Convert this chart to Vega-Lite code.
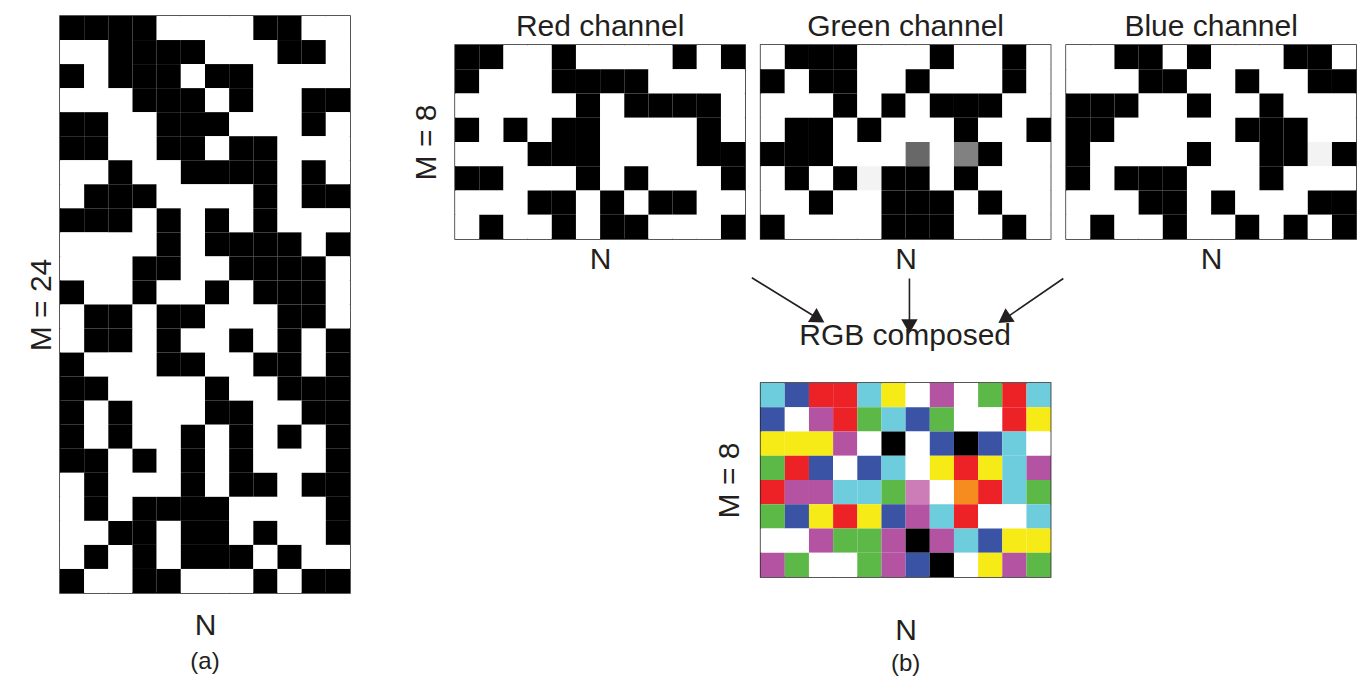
{
"$schema": "https://vega.github.io/schema/vega-lite/v6.json",
"background": "white",
"padding": {"left": 25, "top": 11, "right": 0, "bottom": 0},
"config": {
 "view": {"stroke": "#231f20", "strokeWidth": 1.5},
 "font": "Liberation Sans",
 "axis": {"labels": false, "ticks": false, "domain": false, "grid": false, "titleFontSize": 30, "titleFontWeight": "normal", "titleColor": "#231f20", "titleFont": "Liberation Sans", "minExtent": 0},
 "title": {"fontSize": 30, "fontWeight": "normal", "color": "#231f20", "font": "Liberation Sans", "offset": 0}
},
"datasets": {
"a": [
{"r":0,"c":0,"v":1},{"r":0,"c":1,"v":1},{"r":0,"c":2,"v":1},{"r":0,"c":3,"v":1},{"r":0,"c":4,"v":0},{"r":0,"c":5,"v":0},{"r":0,"c":6,"v":0},{"r":0,"c":7,"v":0},{"r":0,"c":8,"v":1},{"r":0,"c":9,"v":1},{"r":0,"c":10,"v":0},{"r":0,"c":11,"v":0},
{"r":1,"c":0,"v":0},{"r":1,"c":1,"v":0},{"r":1,"c":2,"v":1},{"r":1,"c":3,"v":1},{"r":1,"c":4,"v":1},{"r":1,"c":5,"v":1},{"r":1,"c":6,"v":0},{"r":1,"c":7,"v":0},{"r":1,"c":8,"v":0},{"r":1,"c":9,"v":1},{"r":1,"c":10,"v":1},{"r":1,"c":11,"v":0},
{"r":2,"c":0,"v":1},{"r":2,"c":1,"v":0},{"r":2,"c":2,"v":1},{"r":2,"c":3,"v":1},{"r":2,"c":4,"v":1},{"r":2,"c":5,"v":0},{"r":2,"c":6,"v":1},{"r":2,"c":7,"v":1},{"r":2,"c":8,"v":0},{"r":2,"c":9,"v":0},{"r":2,"c":10,"v":0},{"r":2,"c":11,"v":0},
{"r":3,"c":0,"v":0},{"r":3,"c":1,"v":0},{"r":3,"c":2,"v":0},{"r":3,"c":3,"v":1},{"r":3,"c":4,"v":1},{"r":3,"c":5,"v":1},{"r":3,"c":6,"v":0},{"r":3,"c":7,"v":1},{"r":3,"c":8,"v":0},{"r":3,"c":9,"v":0},{"r":3,"c":10,"v":1},{"r":3,"c":11,"v":1},
{"r":4,"c":0,"v":1},{"r":4,"c":1,"v":1},{"r":4,"c":2,"v":0},{"r":4,"c":3,"v":0},{"r":4,"c":4,"v":1},{"r":4,"c":5,"v":1},{"r":4,"c":6,"v":1},{"r":4,"c":7,"v":0},{"r":4,"c":8,"v":0},{"r":4,"c":9,"v":0},{"r":4,"c":10,"v":1},{"r":4,"c":11,"v":0},
{"r":5,"c":0,"v":1},{"r":5,"c":1,"v":1},{"r":5,"c":2,"v":0},{"r":5,"c":3,"v":0},{"r":5,"c":4,"v":1},{"r":5,"c":5,"v":1},{"r":5,"c":6,"v":0},{"r":5,"c":7,"v":1},{"r":5,"c":8,"v":1},{"r":5,"c":9,"v":0},{"r":5,"c":10,"v":0},{"r":5,"c":11,"v":0},
{"r":6,"c":0,"v":0},{"r":6,"c":1,"v":0},{"r":6,"c":2,"v":1},{"r":6,"c":3,"v":0},{"r":6,"c":4,"v":0},{"r":6,"c":5,"v":1},{"r":6,"c":6,"v":1},{"r":6,"c":7,"v":1},{"r":6,"c":8,"v":1},{"r":6,"c":9,"v":0},{"r":6,"c":10,"v":1},{"r":6,"c":11,"v":0},
{"r":7,"c":0,"v":0},{"r":7,"c":1,"v":1},{"r":7,"c":2,"v":1},{"r":7,"c":3,"v":1},{"r":7,"c":4,"v":0},{"r":7,"c":5,"v":0},{"r":7,"c":6,"v":0},{"r":7,"c":7,"v":0},{"r":7,"c":8,"v":1},{"r":7,"c":9,"v":0},{"r":7,"c":10,"v":1},{"r":7,"c":11,"v":1},
{"r":8,"c":0,"v":1},{"r":8,"c":1,"v":1},{"r":8,"c":2,"v":1},{"r":8,"c":3,"v":0},{"r":8,"c":4,"v":1},{"r":8,"c":5,"v":0},{"r":8,"c":6,"v":1},{"r":8,"c":7,"v":0},{"r":8,"c":8,"v":1},{"r":8,"c":9,"v":0},{"r":8,"c":10,"v":0},{"r":8,"c":11,"v":0},
{"r":9,"c":0,"v":0},{"r":9,"c":1,"v":0},{"r":9,"c":2,"v":0},{"r":9,"c":3,"v":0},{"r":9,"c":4,"v":1},{"r":9,"c":5,"v":0},{"r":9,"c":6,"v":1},{"r":9,"c":7,"v":1},{"r":9,"c":8,"v":1},{"r":9,"c":9,"v":1},{"r":9,"c":10,"v":0},{"r":9,"c":11,"v":1},
{"r":10,"c":0,"v":0},{"r":10,"c":1,"v":0},{"r":10,"c":2,"v":0},{"r":10,"c":3,"v":1},{"r":10,"c":4,"v":1},{"r":10,"c":5,"v":0},{"r":10,"c":6,"v":0},{"r":10,"c":7,"v":1},{"r":10,"c":8,"v":1},{"r":10,"c":9,"v":1},{"r":10,"c":10,"v":1},{"r":10,"c":11,"v":0},
{"r":11,"c":0,"v":1},{"r":11,"c":1,"v":0},{"r":11,"c":2,"v":0},{"r":11,"c":3,"v":1},{"r":11,"c":4,"v":0},{"r":11,"c":5,"v":0},{"r":11,"c":6,"v":1},{"r":11,"c":7,"v":0},{"r":11,"c":8,"v":1},{"r":11,"c":9,"v":1},{"r":11,"c":10,"v":1},{"r":11,"c":11,"v":0},
{"r":12,"c":0,"v":0},{"r":12,"c":1,"v":1},{"r":12,"c":2,"v":1},{"r":12,"c":3,"v":0},{"r":12,"c":4,"v":1},{"r":12,"c":5,"v":1},{"r":12,"c":6,"v":0},{"r":12,"c":7,"v":0},{"r":12,"c":8,"v":0},{"r":12,"c":9,"v":1},{"r":12,"c":10,"v":1},{"r":12,"c":11,"v":0},
{"r":13,"c":0,"v":0},{"r":13,"c":1,"v":1},{"r":13,"c":2,"v":1},{"r":13,"c":3,"v":0},{"r":13,"c":4,"v":1},{"r":13,"c":5,"v":0},{"r":13,"c":6,"v":0},{"r":13,"c":7,"v":1},{"r":13,"c":8,"v":0},{"r":13,"c":9,"v":1},{"r":13,"c":10,"v":0},{"r":13,"c":11,"v":1},
{"r":14,"c":0,"v":1},{"r":14,"c":1,"v":0},{"r":14,"c":2,"v":0},{"r":14,"c":3,"v":0},{"r":14,"c":4,"v":1},{"r":14,"c":5,"v":1},{"r":14,"c":6,"v":0},{"r":14,"c":7,"v":0},{"r":14,"c":8,"v":1},{"r":14,"c":9,"v":1},{"r":14,"c":10,"v":0},{"r":14,"c":11,"v":1},
{"r":15,"c":0,"v":1},{"r":15,"c":1,"v":1},{"r":15,"c":2,"v":0},{"r":15,"c":3,"v":0},{"r":15,"c":4,"v":0},{"r":15,"c":5,"v":0},{"r":15,"c":6,"v":1},{"r":15,"c":7,"v":0},{"r":15,"c":8,"v":0},{"r":15,"c":9,"v":1},{"r":15,"c":10,"v":1},{"r":15,"c":11,"v":1},
{"r":16,"c":0,"v":1},{"r":16,"c":1,"v":0},{"r":16,"c":2,"v":1},{"r":16,"c":3,"v":0},{"r":16,"c":4,"v":0},{"r":16,"c":5,"v":0},{"r":16,"c":6,"v":1},{"r":16,"c":7,"v":1},{"r":16,"c":8,"v":0},{"r":16,"c":9,"v":0},{"r":16,"c":10,"v":1},{"r":16,"c":11,"v":1},
{"r":17,"c":0,"v":1},{"r":17,"c":1,"v":0},{"r":17,"c":2,"v":1},{"r":17,"c":3,"v":0},{"r":17,"c":4,"v":0},{"r":17,"c":5,"v":1},{"r":17,"c":6,"v":0},{"r":17,"c":7,"v":1},{"r":17,"c":8,"v":0},{"r":17,"c":9,"v":1},{"r":17,"c":10,"v":0},{"r":17,"c":11,"v":1},
{"r":18,"c":0,"v":1},{"r":18,"c":1,"v":1},{"r":18,"c":2,"v":0},{"r":18,"c":3,"v":1},{"r":18,"c":4,"v":0},{"r":18,"c":5,"v":1},{"r":18,"c":6,"v":0},{"r":18,"c":7,"v":1},{"r":18,"c":8,"v":0},{"r":18,"c":9,"v":0},{"r":18,"c":10,"v":0},{"r":18,"c":11,"v":1},
{"r":19,"c":0,"v":0},{"r":19,"c":1,"v":1},{"r":19,"c":2,"v":0},{"r":19,"c":3,"v":0},{"r":19,"c":4,"v":0},{"r":19,"c":5,"v":1},{"r":19,"c":6,"v":0},{"r":19,"c":7,"v":1},{"r":19,"c":8,"v":1},{"r":19,"c":9,"v":0},{"r":19,"c":10,"v":1},{"r":19,"c":11,"v":1},
{"r":20,"c":0,"v":0},{"r":20,"c":1,"v":1},{"r":20,"c":2,"v":0},{"r":20,"c":3,"v":1},{"r":20,"c":4,"v":1},{"r":20,"c":5,"v":1},{"r":20,"c":6,"v":1},{"r":20,"c":7,"v":0},{"r":20,"c":8,"v":0},{"r":20,"c":9,"v":0},{"r":20,"c":10,"v":0},{"r":20,"c":11,"v":1},
{"r":21,"c":0,"v":0},{"r":21,"c":1,"v":0},{"r":21,"c":2,"v":1},{"r":21,"c":3,"v":1},{"r":21,"c":4,"v":0},{"r":21,"c":5,"v":1},{"r":21,"c":6,"v":1},{"r":21,"c":7,"v":0},{"r":21,"c":8,"v":1},{"r":21,"c":9,"v":0},{"r":21,"c":10,"v":0},{"r":21,"c":11,"v":1},
{"r":22,"c":0,"v":0},{"r":22,"c":1,"v":1},{"r":22,"c":2,"v":0},{"r":22,"c":3,"v":1},{"r":22,"c":4,"v":0},{"r":22,"c":5,"v":1},{"r":22,"c":6,"v":1},{"r":22,"c":7,"v":1},{"r":22,"c":8,"v":0},{"r":22,"c":9,"v":1},{"r":22,"c":10,"v":0},{"r":22,"c":11,"v":0},
{"r":23,"c":0,"v":1},{"r":23,"c":1,"v":0},{"r":23,"c":2,"v":0},{"r":23,"c":3,"v":1},{"r":23,"c":4,"v":1},{"r":23,"c":5,"v":0},{"r":23,"c":6,"v":0},{"r":23,"c":7,"v":0},{"r":23,"c":8,"v":1},{"r":23,"c":9,"v":0},{"r":23,"c":10,"v":1},{"r":23,"c":11,"v":1}
],
"b": [
{"r":0,"c":0,"R":0,"G":1,"B":1,"k":"cyan"},{"r":0,"c":1,"R":0,"G":0,"B":1,"k":"blue"},{"r":0,"c":2,"R":1,"G":0,"B":0,"k":"red"},{"r":0,"c":3,"R":1,"G":0,"B":0,"k":"red"},{"r":0,"c":4,"R":0,"G":1,"B":1,"k":"cyan"},{"r":0,"c":5,"R":1,"G":1,"B":0,"k":"yellow"},{"r":0,"c":6,"R":1,"G":1,"B":1,"k":"white"},{"r":0,"c":7,"R":1,"G":0,"B":1,"k":"magenta"},{"r":0,"c":8,"R":1,"G":1,"B":1,"k":"white"},{"r":0,"c":9,"R":0,"G":1,"B":0,"k":"green"},{"r":0,"c":10,"R":1,"G":0,"B":0,"k":"red"},{"r":0,"c":11,"R":0,"G":1,"B":1,"k":"cyan"},
{"r":1,"c":0,"R":0,"G":0,"B":1,"k":"blue"},{"r":1,"c":1,"R":1,"G":1,"B":1,"k":"white"},{"r":1,"c":2,"R":1,"G":0,"B":1,"k":"magenta"},{"r":1,"c":3,"R":1,"G":0,"B":0,"k":"red"},{"r":1,"c":4,"R":0,"G":1,"B":0,"k":"green"},{"r":1,"c":5,"R":0,"G":1,"B":1,"k":"cyan"},{"r":1,"c":6,"R":0,"G":0,"B":1,"k":"blue"},{"r":1,"c":7,"R":0,"G":1,"B":0,"k":"green"},{"r":1,"c":8,"R":1,"G":1,"B":1,"k":"white"},{"r":1,"c":9,"R":1,"G":1,"B":1,"k":"white"},{"r":1,"c":10,"R":1,"G":0,"B":0,"k":"red"},{"r":1,"c":11,"R":1,"G":1,"B":0,"k":"yellow"},
{"r":2,"c":0,"R":1,"G":1,"B":0,"k":"yellow"},{"r":2,"c":1,"R":1,"G":1,"B":0,"k":"yellow"},{"r":2,"c":2,"R":1,"G":1,"B":0,"k":"yellow"},{"r":2,"c":3,"R":1,"G":0,"B":1,"k":"magenta"},{"r":2,"c":4,"R":1,"G":1,"B":1,"k":"white"},{"r":2,"c":5,"R":0,"G":0,"B":0,"k":"black"},{"r":2,"c":6,"R":1,"G":1,"B":1,"k":"white"},{"r":2,"c":7,"R":0,"G":0,"B":1,"k":"blue"},{"r":2,"c":8,"R":0,"G":0,"B":0,"k":"black"},{"r":2,"c":9,"R":0,"G":0,"B":1,"k":"blue"},{"r":2,"c":10,"R":0,"G":1,"B":1,"k":"cyan"},{"r":2,"c":11,"R":1,"G":1,"B":1,"k":"white"},
{"r":3,"c":0,"R":0,"G":1,"B":0,"k":"green"},{"r":3,"c":1,"R":1,"G":0,"B":0,"k":"red"},{"r":3,"c":2,"R":0,"G":0,"B":1,"k":"blue"},{"r":3,"c":3,"R":1,"G":1,"B":1,"k":"white"},{"r":3,"c":4,"R":0,"G":0,"B":1,"k":"blue"},{"r":3,"c":5,"R":0,"G":1,"B":1,"k":"cyan"},{"r":3,"c":6,"R":1,"G":1,"B":1,"k":"white"},{"r":3,"c":7,"R":1,"G":1,"B":0,"k":"yellow"},{"r":3,"c":8,"R":1,"G":0,"B":0,"k":"red"},{"r":3,"c":9,"R":1,"G":1,"B":0,"k":"yellow"},{"r":3,"c":10,"R":0,"G":1,"B":1,"k":"cyan"},{"r":3,"c":11,"R":1,"G":0,"B":1,"k":"magenta"},
{"r":4,"c":0,"R":1,"G":0,"B":0,"k":"red"},{"r":4,"c":1,"R":1,"G":0,"B":1,"k":"magenta"},{"r":4,"c":2,"R":1,"G":0,"B":1,"k":"magenta"},{"r":4,"c":3,"R":0,"G":1,"B":1,"k":"cyan"},{"r":4,"c":4,"R":0,"G":1,"B":1,"k":"cyan"},{"r":4,"c":5,"R":0,"G":1,"B":0,"k":"green"},{"r":4,"c":6,"R":1,"G":0.44,"B":1,"k":"pink"},{"r":4,"c":7,"R":1,"G":1,"B":1,"k":"white"},{"r":4,"c":8,"R":1,"G":0.54,"B":0,"k":"orange"},{"r":4,"c":9,"R":1,"G":0,"B":0,"k":"red"},{"r":4,"c":10,"R":0,"G":1,"B":0.96,"k":"cyan"},{"r":4,"c":11,"R":0,"G":1,"B":0,"k":"green"},
{"r":5,"c":0,"R":0,"G":1,"B":0,"k":"green"},{"r":5,"c":1,"R":0,"G":0,"B":1,"k":"blue"},{"r":5,"c":2,"R":1,"G":1,"B":0,"k":"yellow"},{"r":5,"c":3,"R":1,"G":0,"B":0,"k":"red"},{"r":5,"c":4,"R":1,"G":0.96,"B":0,"k":"yellow"},{"r":5,"c":5,"R":0,"G":0,"B":1,"k":"blue"},{"r":5,"c":6,"R":1,"G":0,"B":1,"k":"magenta"},{"r":5,"c":7,"R":0,"G":1,"B":1,"k":"cyan"},{"r":5,"c":8,"R":1,"G":0,"B":0,"k":"red"},{"r":5,"c":9,"R":1,"G":1,"B":1,"k":"white"},{"r":5,"c":10,"R":1,"G":1,"B":1,"k":"white"},{"r":5,"c":11,"R":0,"G":1,"B":1,"k":"cyan"},
{"r":6,"c":0,"R":1,"G":1,"B":1,"k":"white"},{"r":6,"c":1,"R":1,"G":1,"B":1,"k":"white"},{"r":6,"c":2,"R":1,"G":0,"B":1,"k":"magenta"},{"r":6,"c":3,"R":0,"G":1,"B":0,"k":"green"},{"r":6,"c":4,"R":0,"G":1,"B":0,"k":"green"},{"r":6,"c":5,"R":1,"G":0,"B":1,"k":"magenta"},{"r":6,"c":6,"R":0,"G":0,"B":0,"k":"black"},{"r":6,"c":7,"R":1,"G":0,"B":1,"k":"magenta"},{"r":6,"c":8,"R":0,"G":1,"B":1,"k":"cyan"},{"r":6,"c":9,"R":0,"G":0,"B":1,"k":"blue"},{"r":6,"c":10,"R":1,"G":1,"B":0,"k":"yellow"},{"r":6,"c":11,"R":1,"G":1,"B":0,"k":"yellow"},
{"r":7,"c":0,"R":1,"G":0,"B":1,"k":"magenta"},{"r":7,"c":1,"R":0,"G":1,"B":0,"k":"green"},{"r":7,"c":2,"R":1,"G":1,"B":1,"k":"white"},{"r":7,"c":3,"R":1,"G":1,"B":1,"k":"white"},{"r":7,"c":4,"R":0,"G":1,"B":0,"k":"green"},{"r":7,"c":5,"R":1,"G":0,"B":1,"k":"magenta"},{"r":7,"c":6,"R":0,"G":0,"B":1,"k":"blue"},{"r":7,"c":7,"R":0,"G":0,"B":0,"k":"black"},{"r":7,"c":8,"R":1,"G":1,"B":1,"k":"white"},{"r":7,"c":9,"R":1,"G":1,"B":0,"k":"yellow"},{"r":7,"c":10,"R":1,"G":0,"B":1,"k":"magenta"},{"r":7,"c":11,"R":0,"G":1,"B":0,"k":"green"}
],
"channels": [
{"name": "Red channel"},
{"name": "Green channel"},
{"name": "Blue channel"}
],
"arrows": [
{"from": "Red channel", "x": 0.0728, "y": 0.017, "x2": 0.2575, "y2": 0.409},
{"from": "Green channel", "x": 0.5106, "y": 0.024, "x2": 0.5106, "y2": 0.483},
{"from": "Blue channel", "x": 0.938, "y": 0.024, "x2": 0.774, "y2": 0.412}
],
"heads": [
{"to": "RGB composed", "x": 0.2575, "y": 0.409, "ang": 121.6},
{"to": "RGB composed", "x": 0.5106, "y": 0.483, "ang": 180},
{"to": "RGB composed", "x": 0.774, "y": 0.412, "ang": 235.5}
],
"labels": [
{"label": "RGB composed", "x": 0.4986, "y": 0.665}
]
},
"hconcat": [
 {
  "data": {"name": "a"},
  "width": 290, "height": 577,
  "title": {"text": "(a)", "orient": "bottom", "fontSize": 24, "offset": 10, "anchor": "middle", "frame": "group"},
  "mark": "rect",
  "encoding": {
   "x": {"field": "c", "type": "ordinal", "scale": {"paddingInner": 0, "paddingOuter": 0}, "axis": {"title": "N", "titlePadding": 17}},
   "y": {"field": "r", "type": "ordinal", "scale": {"paddingInner": 0, "paddingOuter": 0}, "axis": {"title": "M = 24", "titlePadding": 4}},
   "color": {"field": "v", "type": "quantitative", "scale": {"domain": [0, 1], "range": ["#ffffff", "#000000"]}, "legend": null}
  }
 },
 {
  "vconcat": [
   {
    "data": {"name": "channels"},
    "width": 901, "height": 26.5,
    "view": {"stroke": "transparent", "fill": "transparent"},
    "mark": {"type": "text", "fontSize": 30, "font": "Liberation Sans", "baseline": "alphabetic", "align": "center", "dy": 7, "color": "#231f20"},
    "encoding": {
     "x": {"field": "name", "type": "nominal", "sort": null, "scale": {"type": "point", "padding": 0.4746}, "axis": null},
     "text": {"field": "name"}
    }
   },
   {
    "hconcat": [
     {
      "data": {"name": "b"},
      "width": 290, "height": 194,
      "mark": "rect",
      "encoding": {
       "x": {"field": "c", "type": "ordinal", "scale": {"paddingInner": 0, "paddingOuter": 0}, "axis": {"title": "N", "titlePadding": 5}},
       "y": {"field": "r", "type": "ordinal", "scale": {"paddingInner": 0, "paddingOuter": 0}, "axis": {"title": "M = 8", "titlePadding": 14}},
       "color": {"field": "R", "type": "quantitative", "scale": {"domain": [0, 1], "range": ["#000000", "#ffffff"]}, "legend": null}
      }
     },
     {
      "data": {"name": "b"},
      "width": 290, "height": 194,
      "mark": "rect",
      "encoding": {
       "x": {"field": "c", "type": "ordinal", "scale": {"paddingInner": 0, "paddingOuter": 0}, "axis": {"title": "N", "titlePadding": 5}},
       "y": {"field": "r", "type": "ordinal", "scale": {"paddingInner": 0, "paddingOuter": 0}, "axis": null},
       "color": {"field": "G", "type": "quantitative", "scale": {"domain": [0, 1], "range": ["#000000", "#ffffff"]}, "legend": null}
      }
     },
     {
      "data": {"name": "b"},
      "width": 290, "height": 194,
      "mark": "rect",
      "encoding": {
       "x": {"field": "c", "type": "ordinal", "scale": {"paddingInner": 0, "paddingOuter": 0}, "axis": {"title": "N", "titlePadding": 5}},
       "y": {"field": "r", "type": "ordinal", "scale": {"paddingInner": 0, "paddingOuter": 0}, "axis": null},
       "color": {"field": "B", "type": "quantitative", "scale": {"domain": [0, 1], "range": ["#000000", "#ffffff"]}, "legend": null}
      }
     }
    ],
    "spacing": 13.5,
    "resolve": {"scale": {"color": "independent"}}
   },
   {
    "width": 360, "height": 104.5,
    "view": {"stroke": "transparent", "fill": "transparent"},
    "layer": [
     {
      "data": {"name": "arrows"},
      "mark": {"type": "rule", "strokeWidth": 1.6, "color": "#231f20"},
      "encoding": {
       "x": {"field": "x", "type": "quantitative", "scale": {"domain": [0, 1], "nice": false, "zero": false}, "axis": null},
       "y": {"field": "y", "type": "quantitative", "scale": {"domain": [0, 1], "nice": false, "zero": false, "reverse": true}, "axis": null},
       "x2": {"field": "x2"},
       "y2": {"field": "y2"}
      }
     },
     {
      "data": {"name": "heads"},
      "mark": {"type": "point", "shape": "triangle-up", "filled": true, "size": 270, "color": "#231f20", "opacity": 1},
      "encoding": {
       "x": {"field": "x", "type": "quantitative", "scale": {"domain": [0, 1], "nice": false, "zero": false}, "axis": null},
       "y": {"field": "y", "type": "quantitative", "scale": {"domain": [0, 1], "nice": false, "zero": false, "reverse": true}, "axis": null},
       "angle": {"field": "ang", "type": "quantitative", "scale": null}
      }
     },
     {
      "data": {"name": "labels"},
      "mark": {"type": "text", "fontSize": 30, "font": "Liberation Sans", "baseline": "alphabetic", "align": "center", "color": "#231f20"},
      "encoding": {
       "x": {"field": "x", "type": "quantitative", "scale": {"domain": [0, 1], "nice": false, "zero": false}, "axis": null},
       "y": {"field": "y", "type": "quantitative", "scale": {"domain": [0, 1], "nice": false, "zero": false, "reverse": true}, "axis": null},
       "text": {"field": "label"}
      }
     }
    ]
   },
   {
    "data": {"name": "b"},
    "width": 290, "height": 194,
    "title": {"text": "(b)", "orient": "bottom", "fontSize": 24, "offset": 7, "anchor": "middle", "frame": "group"},
    "mark": "rect",
    "encoding": {
     "x": {"field": "c", "type": "ordinal", "scale": {"paddingInner": 0, "paddingOuter": 0}, "axis": {"title": "N", "titlePadding": 38}},
     "y": {"field": "r", "type": "ordinal", "scale": {"paddingInner": 0, "paddingOuter": 0}, "axis": {"title": "M = 8", "titlePadding": 16}},
     "color": {"field": "k", "type": "nominal", "scale": {"domain": ["cyan", "blue", "red", "yellow", "white", "magenta", "green", "black", "pink", "orange"], "range": ["#6dcddd", "#3a53a4", "#ec2227", "#f6eb16", "#ffffff", "#b353a1", "#5cb947", "#000000", "#cc7db8", "#f68b1f"]}, "legend": null}
    }
   }
  ],
  "spacing": 0,
  "center": true,
  "resolve": {"scale": {"color": "independent", "x": "independent", "y": "independent"}}
 }
],
"spacing": 59,
"resolve": {"scale": {"color": "independent"}}
}
